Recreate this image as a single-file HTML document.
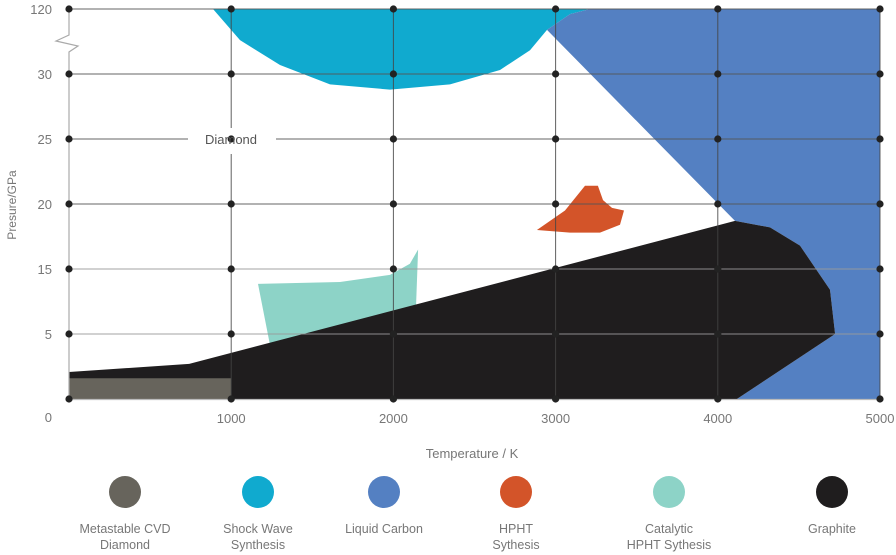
<!DOCTYPE html>
<html><head><meta charset="utf-8"><style>
body{margin:0;background:#fff;}
svg{display:block;font-family:"Liberation Sans",sans-serif;}
</style></head><body>
<svg id="chart" width="896" height="555" viewBox="0 0 896 555">
<g id="shapes"></g><g id="grid"></g><g id="labels"></g><g id="legend"></g>
</svg>
<script>
const xTicks=[0,1000,2000,3000,4000,5000];
const yTicks=[0,5,15,20,25,30,120];
const seriesNames=["Metastable CVD|Diamond","Shock Wave|Synthesis","Liquid Carbon","HPHT|Sythesis","Catalytic|HPHT Sythesis","Graphite"];
const seriesColors=["#67645c","#10aacf","#5480c2","#d35429","#8dd3c7","#1f1d1e"];
const shockWave=[[888,120],[1054,77],[1301,42.5],[1609,29.2],[1979,28.8],[2349,29.2],[2657,35.5],[2842,63],[2947,91],[3089,113],[3212,120]];
const liquidCarbon=[[3212,120],[5000,120],[5000,0],[4118,0],[4723,5],[4692,11.8],[4507,16.8],[4322,18.2],[4106,18.7],[2947,91],[3089,113]];
const catalytic=[[1165,12.7],[1671,13],[1979,14.1],[2102,15.4],[2152,16.5],[2139,8.7],[1239,4.15]];
const hpht=[[2885,18],[3058,19.5],[3181,21.4],[3261,21.4],[3292,20.3],[3348,19.7],[3422,19.5],[3397,18.4],[3274,17.8],[3089,17.8]];
const graphite=[[0,2.08],[741,2.7],[4106,18.7],[4322,18.2],[4507,16.8],[4692,11.8],[4723,5],[4118,0],[0,0]];
const cvd=[[0,0],[1000,0],[1000,1.6],[0,1.6]];

const NS="http://www.w3.org/2000/svg";
const yPix=[399,334,269,204,139,74,9];
function px(T){return 69+T*0.1622;}
function py(P){
  for(let i=0;i<yTicks.length-1;i++){
    if(P<=yTicks[i+1]){return yPix[i]+(P-yTicks[i])/(yTicks[i+1]-yTicks[i])*(yPix[i+1]-yPix[i]);}
  }
  return 9;
}
function mk(tag,attrs,parent){const e=document.createElementNS(NS,tag);for(const k in attrs)e.setAttribute(k,attrs[k]);parent.appendChild(e);return e;}
const shapes=document.getElementById('shapes');
function poly(pts,color,name){
  const p=mk('polygon',{points:pts.map(d=>px(d[0]).toFixed(1)+','+py(d[1]).toFixed(1)).join(' '),fill:color},shapes);
  
  
}
poly(shockWave,seriesColors[1],'shock-wave-region');
poly(liquidCarbon,seriesColors[2],'liquid-carbon-region');
poly(catalytic,seriesColors[4],'catalytic-hpht-region');
poly(hpht,seriesColors[3],'hpht-region');
poly(graphite,seriesColors[5],'graphite-region');
poly(cvd,seriesColors[0],'cvd-region');

const grid=document.getElementById('grid');
// y axis with break
let ax=mk('path',{d:'M69,9 V35 L56,41 L78,46 L69,52 V399',stroke:'#aaa','stroke-width':1.2,fill:'none'},grid);


let bx=mk('line',{x1:69,x2:880,y1:399.5,y2:399.5,stroke:'#bbb','stroke-width':1.2},grid);


yTicks.forEach((v,i)=>{
  if(v===0)return;
  const l=mk('line',{x1:69,x2:880,y1:py(v),y2:py(v),stroke:(v<=15?'#999':'#555'),'stroke-width':1,'stroke-opacity':0.9},grid);
  
  
});
xTicks.forEach(v=>{
  if(v===0)return;
  const l=mk('line',{x1:px(v),x2:px(v),y1:9,y2:399,stroke:'#444','stroke-width':1,'stroke-opacity':0.85},grid);
  
  
});
// diamond label gap
let gap=mk('rect',{x:188,y:128,width:88,height:26,fill:'#fff'},grid);


xTicks.forEach(xv=>{yTicks.forEach(yv=>{
  const c=mk('circle',{cx:px(xv),cy:py(yv),r:3.6,fill:'#222'},grid);
  
  
});});

const labels=document.getElementById('labels');
function txt(s,x,y,attrs,name){const t=mk('text',Object.assign({x:x,y:y,fill:'#777','font-size':13},attrs),labels);t.textContent=s;return t;}
yTicks.forEach(v=>{txt(String(v),v===0?52:52,v===0?py(v)+23:py(v)+5,{'text-anchor':'end'},'y-tick-label');});
xTicks.forEach(v=>{if(v===0)return;txt(String(v),px(v),423,{'text-anchor':'middle'},'x-tick-label');});
txt('Diamond',231,144,{'text-anchor':'middle',fill:'#555'},'diamond-label');
txt('Temperature / K',472,458,{'text-anchor':'middle'},'x-axis-title');
txt('Presure/GPa',16,205,{'text-anchor':'middle',transform:'rotate(-90 16 205)','font-size':12},'y-axis-title');

const legend=document.getElementById('legend');
const legX=[125,258,384,516,669,832];
seriesNames.forEach((n,i)=>{
  const g=mk('g',{},legend);
  
  
  const c=mk('circle',{cx:legX[i],cy:492,r:16,fill:seriesColors[i]},g);
  
  
  n.split('|').forEach((ln,j)=>{
    const t=mk('text',{x:legX[i]+(i===1?0:0),y:533+j*16,'text-anchor':'middle',fill:'#777','font-size':12.5},g);
    t.textContent=ln;
    
    
  });
});
</script>
</body></html>
